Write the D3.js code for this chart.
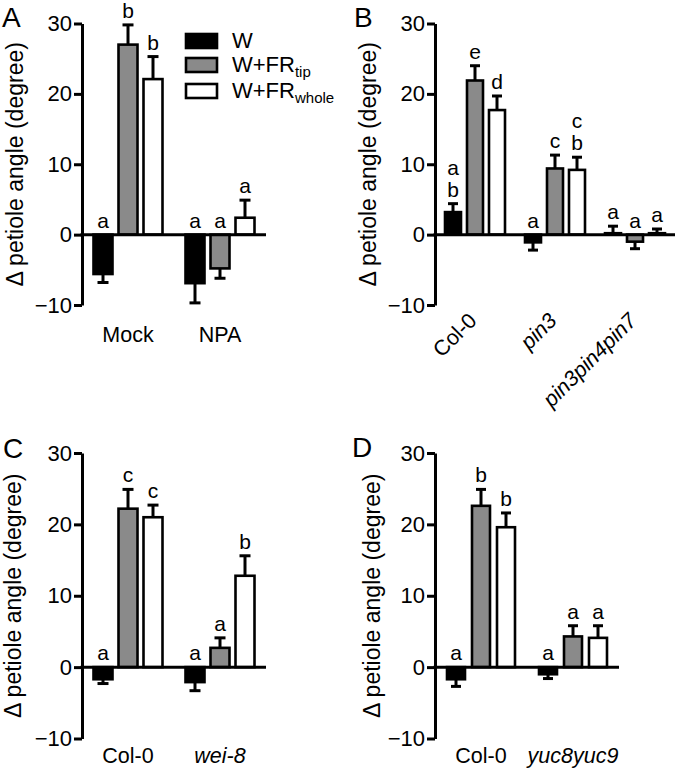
<!DOCTYPE html>
<html><head><meta charset="utf-8">
<script src="https://cdn.jsdelivr.net/npm/d3@7"></script>
<style>body{margin:0;background:#fff} svg text{font-family:"Liberation Sans",Arial,Helvetica,sans-serif;fill:#000}</style>
</head><body><svg id="c" width="677" height="769"></svg>
<script>
// ---------- data ----------
const seriesMain = ["W", "W+FR", "W+FR"];
const seriesSubs = ["", "tip", "whole"];
const seriesColors = ["#000000", "#8a8a8a", "#ffffff"];
const yTicks = [-10, 0, 10, 20, 30];
const yLabel = "Δ petiole angle (degree)";

// Panel A
const catsA = ["Mock", "NPA"];
const wA = [-5.6, -6.9], tipA = [27.0, -4.8], wholeA = [22.1, 2.4];
const wErrA = [1.2, 2.8], tipErrA = [2.8, 1.4], wholeErrA = [3.2, 2.5];
const lettersA = [[["a"], ["b"], ["b"]], [["a"], ["a"], ["a"]]];

// Panel B
const catsB = ["Col-0", "pin3", "pin3pin4pin7"];
const wB = [3.2, -1.1, 0.2], tipB = [21.9, 9.4, -1.0], wholeB = [17.7, 9.2, 0.2];
const wErrB = [1.2, 1.1, 1.0], tipErrB = [2.1, 1.9, 1.0], wholeErrB = [2.0, 1.8, 0.6];
const lettersB = [[["a", "b"], ["e"], ["d"]], [["a"], ["c"], ["c", "b"]], [["a"], ["a"], ["a"]]];

// Panel C
const catsC = ["Col-0", "wei-8"];
const wC = [-1.7, -2.1], tipC = [22.2, 2.7], wholeC = [21.0, 12.8];
const wErrC = [0.6, 1.2], tipErrC = [2.7, 1.4], wholeErrC = [1.7, 2.8];
const lettersC = [[["a"], ["c"], ["c"]], [["a"], ["a"], ["b"]]];

// Panel D
const catsD = ["Col-0", "yuc8yuc9"];
const wD = [-1.7, -1.0], tipD = [22.6, 4.3], wholeD = [19.6, 4.1];
const wErrD = [1.0, 0.6], tipErrD = [2.3, 1.5], wholeErrD = [2.0, 1.7];
const lettersD = [[["a"], ["b"], ["b"]], [["a"], ["a"], ["a"]]];

// ---------- drawing ----------
const svg = d3.select("#c");
svg.append("rect").attr("width", 677).attr("height", 769).attr("fill", "#fff");

function panel(cfg) {
  const g = svg.append("g");
  const y = d3.scaleLinear().domain([-10, 30]).range([cfg.yBot, cfg.yTop]);
  const x = d3.scaleBand().domain(cfg.cats).range([cfg.x0, cfg.x1]);

  const series = [cfg.w, cfg.tip, cfg.whole];
  const errs = [cfg.wErr, cfg.tipErr, cfg.wholeErr];

  cfg.cats.forEach((c, ci) => {
    const cx = x(c) + x.bandwidth() / 2;
    series.forEach((vals, si) => {
      const v = vals[ci], e = errs[si][ci];
      const bx = cx + (si - 1) * cfg.step;
      const sgn = v >= 0 ? 1 : -1;
      const ye = y(v + sgn * e);
      g.append("line").attr("x1", bx).attr("x2", bx)
        .attr("y1", y(v)).attr("y2", ye)
        .attr("stroke", "#000").attr("stroke-width", 3);
      g.append("line").attr("x1", bx - cfg.cap / 2).attr("x2", bx + cfg.cap / 2)
        .attr("y1", ye).attr("y2", ye)
        .attr("stroke", "#000").attr("stroke-width", 3);
      g.append("rect")
        .attr("x", bx - cfg.barW / 2).attr("width", cfg.barW)
        .attr("y", y(Math.max(0, v))).attr("height", Math.abs(y(v) - y(0)))
        .attr("fill", seriesColors[si]).attr("stroke", "#000").attr("stroke-width", 2.6);
      const lets = cfg.letters[ci][si];
      const base = (v >= 0 ? ye : y(0)) - 7;
      lets.forEach((L, li) => {
        g.append("text").attr("x", bx).attr("y", base - (lets.length - 1 - li) * 22)
          .attr("text-anchor", "middle").attr("font-size", 21).text(L);
      });
    });
  });

  const ax = g.append("g").attr("transform", `translate(${cfg.x0},0)`)
    .call(d3.axisLeft(y).tickValues(yTicks).tickSize(8).tickPadding(2).tickSizeOuter(0));
  ax.attr("font-family", null).attr("font-size", null);
  ax.selectAll("path,line").attr("stroke", "#000").attr("stroke-width", 3);
  ax.selectAll("text").attr("font-size", 22).attr("fill", "#000");

  g.append("line").attr("x1", cfg.x0 - 1.5).attr("x2", cfg.x1)
    .attr("y1", y(0)).attr("y2", y(0)).attr("stroke", "#000").attr("stroke-width", 3);

  cfg.cats.forEach((c, ci) => {
    const cx = x(c) + x.bandwidth() / 2;
    const t = g.append("text").attr("font-size", 21.5).text(c)
      .attr("font-style", cfg.italic[ci] ? "italic" : null);
    if (cfg.rotate) {
      t.attr("text-anchor", "end")
        .attr("transform", `translate(${cx + 3},${cfg.yBot + 17}) rotate(-45)`);
    } else {
      t.attr("text-anchor", "middle").attr("x", cx).attr("y", cfg.labelY);
    }
  });

  g.append("text").attr("font-size", 23).attr("text-anchor", "middle")
    .attr("transform", `translate(${cfg.yLabX},${(cfg.yTop + cfg.yBot) / 2}) rotate(-90)`)
    .text(yLabel);

  g.append("text").attr("font-size", 28).attr("x", cfg.pLX).attr("y", cfg.pLY).text(cfg.name);
  return g;
}

panel({ name: "A", cats: catsA, w: wA, tip: tipA, whole: wholeA, wErr: wErrA, tipErr: tipErrA, wholeErr: wholeErrA,
  letters: lettersA, x0: 82, x1: 266, yTop: 23.5, yBot: 305, barW: 19, step: 25, cap: 11,
  labelY: 342, rotate: false, italic: [false, false], yLabX: 23, pLX: 2, pLY: 27 });

panel({ name: "B", cats: catsB, w: wB, tip: tipB, whole: wholeB, wErr: wErrB, tipErr: tipErrB, wholeErr: wholeErrB,
  letters: lettersB, x0: 435, x1: 675, yTop: 23.5, yBot: 305, barW: 16, step: 22, cap: 10,
  labelY: 0, rotate: true, italic: [false, true, true], yLabX: 376, pLX: 354, pLY: 27 });

panel({ name: "C", cats: catsC, w: wC, tip: tipC, whole: wholeC, wErr: wErrC, tipErr: tipErrC, wholeErr: wholeErrC,
  letters: lettersC, x0: 82, x1: 266, yTop: 453, yBot: 738.5, barW: 19, step: 25, cap: 11,
  labelY: 763, rotate: false, italic: [false, true], yLabX: 21, pLX: 3, pLY: 458 });

panel({ name: "D", cats: catsD, w: wD, tip: tipD, whole: wholeD, wErr: wErrD, tipErr: tipErrD, wholeErr: wholeErrD,
  letters: lettersD, x0: 435, x1: 619, yTop: 453, yBot: 738.5, barW: 18, step: 25, cap: 10,
  labelY: 763, rotate: false, italic: [false, true], yLabX: 380, pLX: 352, pLY: 457 });

const leg = svg.append("g");
const legY = [41, 65, 91];
seriesMain.forEach((s, i) => {
  leg.append("rect").attr("x", 186).attr("y", legY[i] - 7).attr("width", 31).attr("height", 14)
    .attr("fill", seriesColors[i]).attr("stroke", "#000").attr("stroke-width", 2.6);
  const t = leg.append("text").attr("x", 232).attr("y", legY[i] + 7).attr("font-size", 22);
  t.append("tspan").text(s);
  if (seriesSubs[i]) t.append("tspan").attr("font-size", 15).attr("dy", 5).text(seriesSubs[i]);
});
</script></body></html>
